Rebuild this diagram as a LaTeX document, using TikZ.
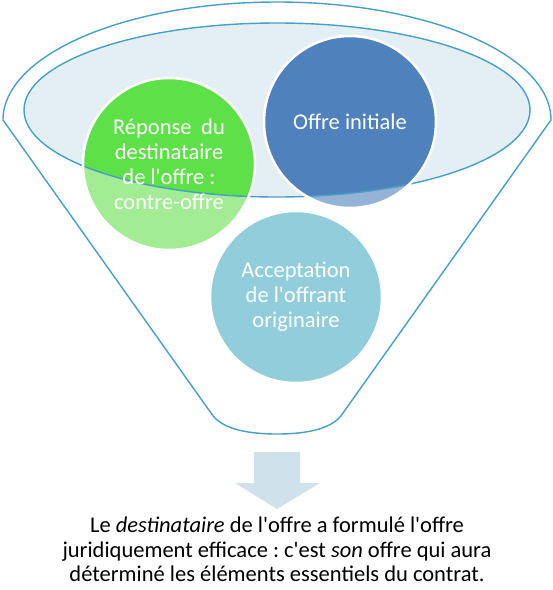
\documentclass[tikz,border=0pt]{standalone}
\usepackage{fontspec}
\setmainfont{Carlito}[Ligatures=TeXOff]
\frenchspacing
\usetikzlibrary{calc}
\definecolor{rimblue}{RGB}{70,160,196}
\definecolor{ellfill}{RGB}{227,239,245}
\definecolor{greenfull}{RGB}{94,224,72}
\definecolor{greenlight}{RGB}{162,236,147}
\definecolor{bluefull}{RGB}{79,129,189}
\definecolor{bluelight}{RGB}{149,179,215}
\definecolor{accfull}{RGB}{146,205,220}
\definecolor{arrowfill}{RGB}{207,226,235}
\tikzset{
  rim/.style={draw=rimblue, line width=1.4pt},
  bubble/.style 2 args={circle, minimum size=172pt, inner sep=0pt, fill=#2,
    draw=white, line width=2.5pt, text=white, align=center,
    font=\fontsize{22.5}{25}\selectfont,
    path picture={
      \begin{scope}
        \clip (ellc) ellipse [x radius=253pt, y radius=87pt];
        \fill[#1] (path picture bounding box.south west) rectangle (path picture bounding box.north east);
      \end{scope}
      \draw[rim] (ellc) ellipse [x radius=253pt, y radius=87pt];
    }}
}

\begin{document}
\begin{tikzpicture}[x=1pt, y=-1pt]
  %%%%% START %%%%%
  \useasboundingbox (0,0) rectangle (553,590);
  \coordinate (ellc) at (277,110);

  % funnel
  \draw[rim, fill=white] (3,120) arc[start angle=180, end angle=0, x radius=274pt, y radius=118pt]
    -- (343,413) .. controls (332,431) and (300,434) .. (277,434)
    .. controls (254,434) and (222,431) .. (211,413) -- cycle;
  \fill[ellfill] (ellc) ellipse [x radius=253pt, y radius=87pt];
  \draw[rim] (ellc) ellipse [x radius=253pt, y radius=87pt];

  % bubbles
  \node[bubble={greenfull}{greenlight}] (reponse) at (169,164)
    {Réponse\hspace{0.2em} du\\destinataire\\de l'offre :\\contre-offre};
  \node[bubble={bluefull}{bluelight}] (initiale) at (350,122) {Offre initiale};
  \node[bubble={accfull}{accfull}] (acceptation) at (296,297)
    {Acceptation\\de l'offrant\\originaire};

  % arrow and conclusion
  \fill[arrowfill] (254,452) -- (300,452) -- (300,483) -- (320,483) -- (277,509)
    -- (235,483) -- (254,483) -- cycle;
  \node[anchor=north, align=center, inner sep=0pt, font=\fontsize{22.5}{24.5}\selectfont] (bilan) at (277,517)
    {Le \emph{destinataire} de l'offre a formulé l'offre\\
     juridiquement efficace : c'est \emph{son} offre qui aura\\
     déterminé les éléments essentiels du contrat.};
  %%%%% END %%%%%
\end{tikzpicture}
\end{document}
